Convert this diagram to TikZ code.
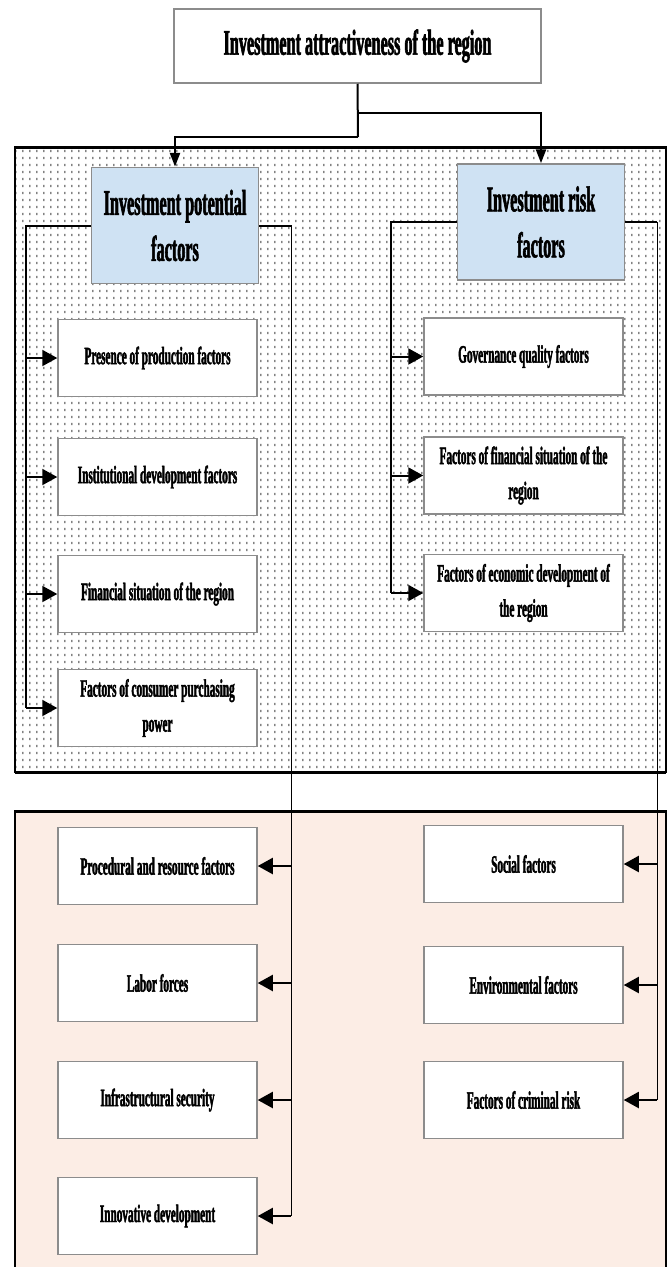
\documentclass[tikz,border=0pt]{standalone}
\usepackage{fontspec}
\setmainfont{Liberation Serif}[FakeStretch=0.45, BoldFeatures={FakeBold=1.6}]
\usetikzlibrary{arrows.meta,patterns.meta}

\definecolor{headblue}{RGB}{207,226,243}
\definecolor{lowpink}{RGB}{252,237,229}

% Dotted fill of the upper frame
\tikzdeclarepattern{
    name=stipple,
    type=uncolored,
    bounding box={(0pt,0pt) and (6.5pt,7pt)},
    tile size={(6.5pt,7pt)},
    code={\fill (2.6pt,2pt) rectangle (3.7pt,4.6pt);}
}

\begin{document}
\begin{tikzpicture}[
    x=1pt,
    y=-1pt,
    factor/.style={draw=black!45, line width=1.5pt, fill=white, minimum width=199pt,
        minimum height=77pt, inner sep=0pt, align=center,
        font=\fontsize{25}{35}\selectfont\bfseries},
    header/.style={draw=black!45, line width=1.5pt, fill=headblue, minimum width=167pt,
        minimum height=116pt, inner sep=0pt, align=center,
        font=\fontsize{36}{46}\selectfont\bfseries},
    link/.style={line width=2pt},
    thin link/.style={line width=1pt},
    feed/.style={line width=2pt, -{Triangle[length=15pt,width=16pt]}},
    drop/.style={line width=2.5pt, -{Triangle[length=14pt,width=10pt]}},
]

% Clip to the page
\clip (0,0) rectangle (670,1267);

% Upper frame (dotted)
\draw[line width=1.5pt, preaction={fill=white}, pattern=stipple, pattern color=black!75]
    (15,147) rectangle (666,772);
\draw[line width=3pt] (15,147) -- (666,147);
\draw[line width=3pt] (15,772) -- (666,772);

% Lower frame
\fill[lowpink] (15,811) rectangle (666,1280);
\draw[line width=1.5pt] (15,1280) -- (15,811) -- (666,811) -- (666,1280);
\draw[line width=3pt] (15,811) -- (666,811);

% Title
\node[draw=black!45, line width=1.5pt, fill=white, minimum width=367pt, minimum height=74pt,
    font=\fontsize{36}{40}\selectfont\bfseries] (title) at (357.5,46)
    {Investment attractiveness of the region};

% Headers
\node[header] (pot) at (175,225.5) {Investment potential\\factors};
\node[header] (risk) at (541,222) {Investment risk\\factors};

% Potential factors, upper part
\node[factor] (prod) at (157.5,358) {Presence of production factors};
\node[factor] (inst) at (157.5,477) {Institutional development factors};
\node[factor] (fin) at (157.5,594) {Financial situation of the region};
\node[factor] (cons) at (157.5,708) {Factors of consumer purchasing\\power};

% Risk factors, upper part
\node[factor] (gov) at (523.5,356.5) {Governance quality factors};
\node[factor] (finr) at (523.5,475.5) {Factors of financial situation of the\\region};
\node[factor] (econ) at (523.5,593) {Factors of economic development of\\the region};

% Potential factors, lower part
\node[factor] (proc) at (157.5,866) {Procedural and resource factors};
\node[factor] (labor) at (157.5,983) {Labor forces};
\node[factor] (infra) at (157.5,1100) {Infrastructural security};
\node[factor] (innov) at (157.5,1216) {Innovative development};

% Risk factors, lower part
\node[factor] (soc) at (523.5,864) {Social factors};
\node[factor] (env) at (523.5,985) {Environmental factors};
\node[factor] (crim) at (523.5,1100) {Factors of criminal risk};

% Bus lines
\coordinate (busA) at (26,0);
\coordinate (busB) at (291,0);
\coordinate (busC) at (391,0);
\coordinate (busD) at (657,0);

% Title to headers
\coordinate (split) at (358,113);
\coordinate (bend) at (358,137);
\draw[link] (title.south) -- (bend);
\draw[drop] (split) -| (risk.north);
\draw[drop] (bend) -| (pot.north);

% Potential brackets
\draw[link] (pot.west) -| (busA |- cons.west);
\draw[thin link] (pot.east) -- (busB |- pot.east) -- (busB |- innov.east);
\draw[link] (pot.east) -- (busB |- pot.east);
\foreach \f in {prod,inst,fin,cons}
    \draw[feed] (busA |- \f.west) -- (\f.west);
\foreach \f in {proc,labor,infra,innov}
    \draw[feed] (busB |- \f.east) -- (\f.east);

% Risk brackets
\draw[link] (risk.west) -| (busC |- econ.west);
\draw[thin link] (risk.east) -- (busD |- risk.east) -- (busD |- crim.east);
\draw[link] (risk.east) -- (busD |- risk.east);
\foreach \f in {gov,finr,econ}
    \draw[feed] (busC |- \f.west) -- (\f.west);
\foreach \f in {soc,env,crim}
    \draw[feed] (busD |- \f.east) -- (\f.east);

\end{tikzpicture}
\end{document}
